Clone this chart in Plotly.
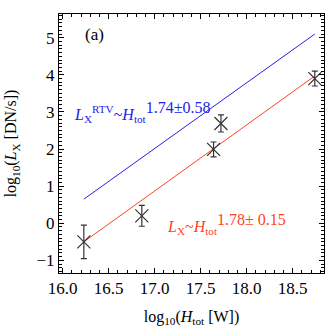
import plotly.graph_objects as go

# data
log_h = [16.23, 16.86, 17.64, 17.72, 18.74]
log_lx = [-0.50, 0.20, 1.99, 2.69, 3.90]
log_lx_err = [0.45, 0.28, 0.20, 0.23, 0.20]

fit_x = [16.23, 18.74]
fit_obs_y = [-0.50, 3.97]
fit_rtv_y = [0.65, 5.10]

x_ticks = [16.0, 16.5, 17.0, 17.5, 18.0, 18.5]
x_ticklabels = ["16.0", "16.5", "17.0", "17.5", "18.0", "18.5"]
y_ticks = [-1, 0, 1, 2, 3, 4, 5]

FONT = "Liberation Serif"

fig = go.Figure()
fig.add_trace(go.Scatter(x=fit_x, y=fit_rtv_y, mode="lines",
                         line=dict(color="#2222ee", width=1), showlegend=False))
fig.add_trace(go.Scatter(x=fit_x, y=fit_obs_y, mode="lines",
                         line=dict(color="#ff4422", width=1), showlegend=False))
fig.add_trace(go.Scatter(x=log_h, y=log_lx, mode="markers", cliponaxis=False,
                         marker=dict(symbol="x-thin", size=13,
                                     line=dict(color="#333333", width=1.2),
                                     color="#333333"),
                         error_y=dict(type="data", array=log_lx_err, visible=True,
                                      color="#333333", thickness=1.2, width=3),
                         showlegend=False))

fig.add_annotation(x=0.09, y=0.92, xref="paper", yref="paper", text="(a)",
                   showarrow=False, font=dict(family=FONT, size=17, color="black"),
                   xanchor="left", yanchor="middle")
fig.add_annotation(x=0.05, y=0.62, xref="paper", yref="paper",
                   text="<i>L</i><sub>X</sub><sup>RTV</sup>~<i>H</i><sub>tot</sub>"
                        "<sup><span style='font-size:16px'>1.74±0.58</span></sup>",
                   showarrow=False, font=dict(family=FONT, size=16, color="#2222ee"),
                   xanchor="left", yanchor="middle")
fig.add_annotation(x=0.40, y=0.19, xref="paper", yref="paper",
                   text="<i>L</i><sub>X</sub>~<i>H</i><sub>tot</sub>"
                        "<sup><span style='font-size:16px'>1.78± 0.15</span></sup>",
                   showarrow=False, font=dict(family=FONT, size=16, color="#ff4422"),
                   xanchor="left", yanchor="middle")

axis_common = dict(showline=True, linecolor="black", linewidth=1, mirror="allticks",
                   ticks="inside", ticklen=5, tickcolor="black", showgrid=False,
                   zeroline=False, automargin=False,
                   tickfont=dict(family=FONT, size=17, color="black"))

fig.update_xaxes(range=[15.96, 18.84], tickvals=x_ticks, ticktext=x_ticklabels,
                 minor=dict(ticks="inside", ticklen=3, dtick=0.1, tick0=16.0,
                            tickcolor="black", showgrid=False),
                 title=dict(text="log<sub>10</sub>(<i>H</i><sub>tot</sub> [W])",
                            font=dict(family=FONT, size=16, color="black")),
                 **axis_common)
fig.update_yaxes(range=[-1.34, 5.64], tickvals=y_ticks,
                 minor=dict(ticks="inside", ticklen=3, dtick=0.1, tick0=0,
                            tickcolor="black", showgrid=False),
                 title=dict(text="log<sub>10</sub>(<i>L</i><sub>X</sub> [DN/s])",
                            font=dict(family=FONT, size=16, color="black")),
                 **axis_common)

fig.update_layout(width=327, height=327, margin=dict(l=59, r=3, t=14, b=54),
                  plot_bgcolor="white", paper_bgcolor="white",
                  font=dict(family=FONT))
fig.write_html("out.html", config={"displayModeBar": False},
               post_script="document.body.style.margin='0';document.body.style.overflow='hidden';")
